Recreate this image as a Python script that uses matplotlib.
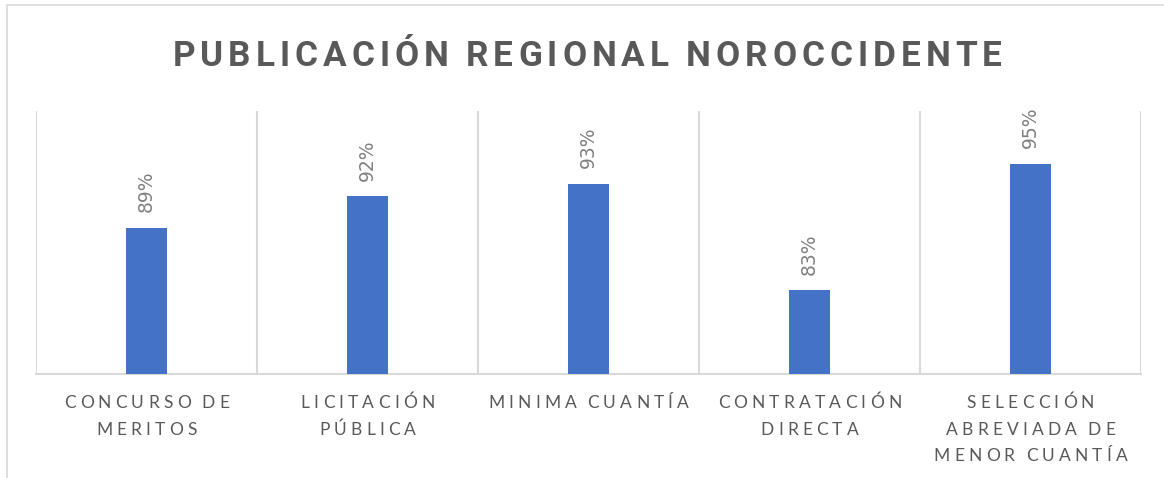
import matplotlib
matplotlib.use("Agg")
import matplotlib.pyplot as plt
from matplotlib.patches import Rectangle
from matplotlib.font_manager import FontProperties, findfont
from matplotlib.ft2font import FT2Font

# -- data -------------------------------------------------------------------- #
categories = ["CONCURSO DE\nMERITOS", "LICITACIÓN\nPÚBLICA", "MINIMA CUANTÍA",
              "CONTRATACIÓN\nDIRECTA", "SELECCIÓN\nABREVIADA DE\nMENOR CUANTÍA"]
values = [0.889, 0.919, 0.931, 0.830, 0.950]
labels = ["89%", "92%", "93%", "83%", "95%"]
title = "PUBLICACIÓN REGIONAL NOROCCIDENTE"

BLUE = "#4472C4"
GRID = "#d9d9d9"
TXT = "#595959"
W, H, DPI = 1164, 478, 100


def advances(s, prop, space_scale=1.0):
    # per-character advance widths in pixels
    font = FT2Font(findfont(prop))
    font.set_size(prop.get_size_in_points(), DPI)
    out = []
    for c in s:
        a = font.load_char(ord(c)).linearHoriAdvance / 65536
        out.append(a * space_scale if c == " " else a)
    return out


def tracked(fig, xc, ybase, s, track, prop, space_scale=1.0, **kw):
    # draw s centred on pixel xc, baseline at pixel ybase (from top), extra letter spacing
    adv = advances(s, prop, space_scale)
    total = sum(adv) + track * (len(s) - 1)
    xp = xc - total / 2
    for c, a in zip(s, adv):
        fig.text(xp / W, 1 - ybase / H, c, fontproperties=prop,
                 ha="left", va="baseline", **kw)
        xp += a + track


fig = plt.figure(figsize=(W / DPI, H / DPI), dpi=DPI)

# chart border (left/top edges visible in the reference)
fig.patches.append(Rectangle((7 / W, -0.1), 1.2, 1 - 5 / H + 0.1,
                             transform=fig.transFigure, fill=False,
                             ec=GRID, lw=1.2))

ax = fig.add_axes([36 / W, 1 - 374 / H, (1141 - 36) / W, (374 - 111) / H])
x = list(range(len(categories)))
bars = ax.bar(x, values, width=0.19, color=BLUE, zorder=3)
ax.set_xlim(-0.5, len(categories) - 0.5)
ax.set_ylim(0.75, 1.0)

for b, lab in zip(bars, labels):
    ax.annotate(lab, (b.get_x() + b.get_width() / 2, b.get_height()),
                xytext=(0, 11), textcoords="offset points", rotation=90,
                ha="center", va="bottom", fontsize=13.5, color="#808080")

for xv in [i - 0.5 for i in range(len(categories) + 1)]:
    ax.axvline(xv, color=GRID, lw=1.5, zorder=1)

for s in ["top", "right", "left"]:
    ax.spines[s].set_visible(False)
ax.spines["bottom"].set_color(GRID)
ax.spines["bottom"].set_linewidth(1.5)
ax.set_yticks([])
ax.set_xticks([])

# category labels, drawn line by line with excel-like letter spacing
tick_prop = FontProperties(family="Lato", size=12.5)
baselines = [408, 435, 461]
for xi, cat in zip(x, categories):
    xc = ax.transData.transform((xi, 0))[0]
    for ln, line in enumerate(cat.split("\n")):
        tracked(fig, xc, baselines[ln], line, 4.2, tick_prop, space_scale=0.6,
                color=TXT)

title_prop = FontProperties(family="Roboto", weight="bold", size=25.3)
tracked(fig, 587, 66, title, 5.0, title_prop, space_scale=0.8, color=TXT)

fig.savefig("out.png", dpi=DPI)
